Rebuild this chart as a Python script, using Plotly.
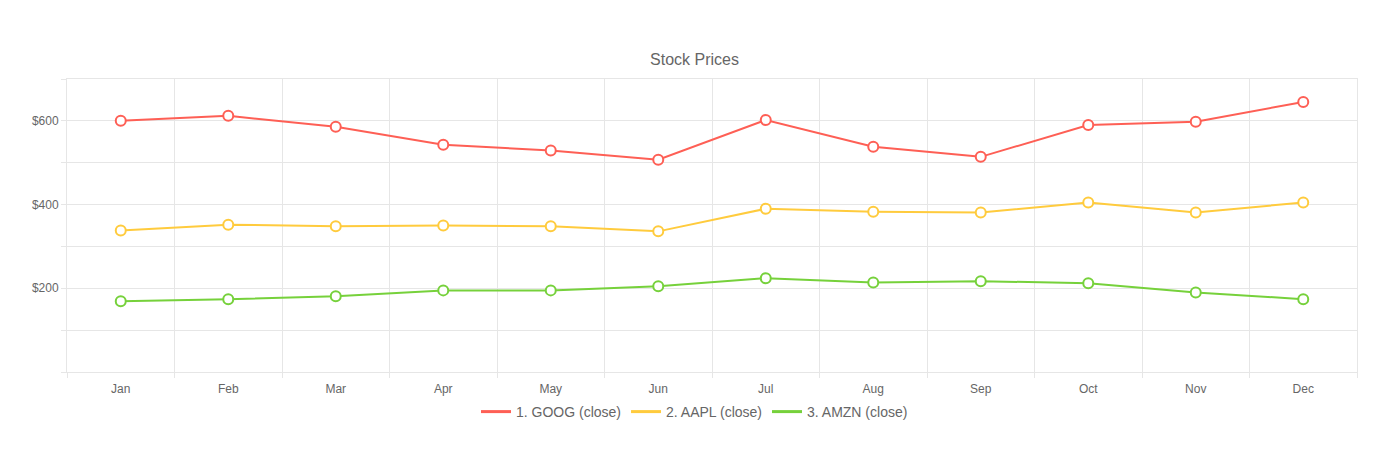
import plotly.graph_objects as go

months = ["Jan", "Feb", "Mar", "Apr", "May", "Jun", "Jul", "Aug", "Sep", "Oct", "Nov", "Dec"]
goog = [600, 612, 586, 543, 529, 507, 602, 538, 514, 590, 598, 645]
aapl = [338, 352, 348, 350, 348, 336, 390, 383, 381, 405, 381, 405]
amzn = [169, 174, 181, 195, 195, 205, 224, 214, 217, 212, 190, 174]

series = [
    ("1. GOOG (close)", goog, "#fe5f55"),
    ("2. AAPL (close)", aapl, "#ffcb3d"),
    ("3. AMZN (close)", amzn, "#76d13b"),
]

y_ticks = [0, 100, 200, 300, 400, 500, 600, 700]
y_text = ["", "", "$200", "", "$400", "", "$600", ""]

fig = go.Figure()
for name, vals, color in series:
    fig.add_trace(go.Scatter(
        x=months, y=vals, name=name, mode="lines+markers", legendgroup=name,
        showlegend=False,
        line=dict(color=color, width=2),
        marker=dict(size=10, color="white", line=dict(color=color, width=2)),
    ))
for name, vals, color in series:
    fig.add_trace(go.Scatter(
        x=[None], y=[None], name=name, mode="lines", legendgroup=name,
        line=dict(color=color, width=3),
    ))

W, H = 1382, 458
L, R, T, B = 67, 25, 79, 86
ph = H - T - B
cx = 694.5

fig.update_layout(
    width=W, height=H,
    margin=dict(l=L, r=R, t=T, b=B, autoexpand=False),
    paper_bgcolor="white", plot_bgcolor="white",
    font=dict(family="Liberation Sans, Arial, sans-serif", color="#666", size=12),
    title=dict(text="Stock Prices", x=cx / W, xref="container", xanchor="center",
               y=1 - 59 / H, yref="container", yanchor="middle",
               font=dict(size=16, color="#666")),
    showlegend=True,
    legend=dict(orientation="h", x=(cx - L) / (W - L - R), xanchor="center",
                y=-(412 - (H - B)) / ph, yanchor="middle",
                font=dict(size=14, color="#666"), itemwidth=30, tracegroupgap=0),
    xaxis=dict(type="category", tickson="boundaries", showgrid=True,
               gridcolor="#e6e6e6", gridwidth=1, ticks="outside", ticklen=5,
               tickcolor="#e6e6e6", showline=True, linecolor="#e6e6e6", mirror=True,
               zeroline=False, range=[-0.5, 11.5], ticklabelstandoff=6,
               automargin=False, tickfont=dict(size=12, color="#666")),
    yaxis=dict(range=[0, 700], tickvals=y_ticks, ticktext=y_text, showgrid=True,
               gridcolor="#e6e6e6", gridwidth=1, ticks="outside", ticklen=5,
               tickcolor="#e6e6e6", showline=True, linecolor="#e6e6e6", mirror=True,
               zeroline=False, automargin=False, tickfont=dict(size=12, color="#666")),
)

fig.write_html("out.html")
